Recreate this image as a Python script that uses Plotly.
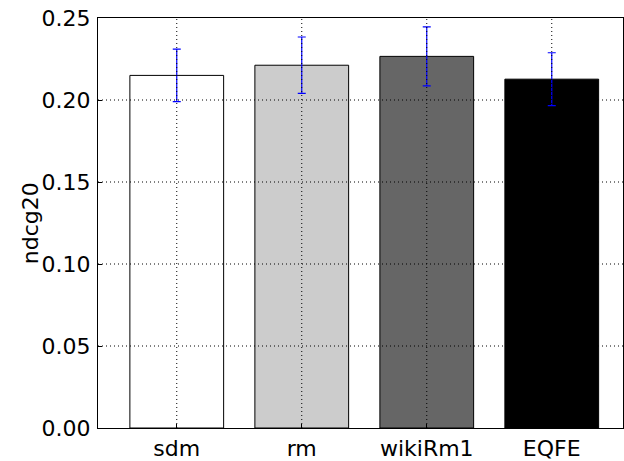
import plotly.graph_objects as go

# ndcg20 scores per run with their error margins
runs = ["sdm", "rm", "wikiRm1", "EQFE"]
ndcg20 = [0.215, 0.2212, 0.2266, 0.2127]
err = [0.016, 0.0172, 0.018, 0.0161]
bar_colors = ["#ffffff", "#cccccc", "#666666", "#000000"]
y_ticks = [0.00, 0.05, 0.10, 0.15, 0.20, 0.25]

W, H = 624, 461
ml, mr, mt, mb = 98, 0, 18, 30
font = dict(family="DejaVu Sans", size=22, color="black")

fig = go.Figure()
fig.add_trace(go.Bar(
    x=list(range(len(runs))), y=ndcg20, width=0.75,
    marker=dict(color=bar_colors, line=dict(color="black", width=1)),
    error_y=dict(type="data", array=err, visible=True, color="#0000ff",
                 thickness=1.2, width=4),
))

# dotted grid on top of the bars
grid = dict(color="black", width=1, dash="1px,3px")
for v in y_ticks[1:-1]:
    fig.add_shape(type="line", xref="paper", yref="y", x0=0, x1=1, y0=v, y1=v,
                  line=grid, layer="above")
for i in range(len(runs)):
    fig.add_shape(type="line", xref="x", yref="paper", x0=i, x1=i, y0=0, y1=1,
                  line=grid, layer="above")

fig.add_annotation(text="ndcg20", textangle=-90, xref="paper", yref="paper",
                   x=(30 - ml) / (W - ml - mr), y=0.5, xanchor="center",
                   yanchor="middle", showarrow=False, font=font)

fig.update_layout(
    width=W, height=H, margin=dict(l=ml, r=mr, t=mt, b=mb),
    paper_bgcolor="white", plot_bgcolor="white", showlegend=False,
    font=font,
    xaxis=dict(range=[-0.63, 3.57], tickvals=list(range(len(runs))),
               ticktext=runs, showgrid=False, zeroline=False,
               showline=True, linecolor="black", linewidth=1, mirror=True,
               ticks="inside", ticklen=4, tickcolor="black", ticklabelstandoff=1),
    yaxis=dict(range=[0, 0.25], tickvals=y_ticks,
               ticktext=[f"{v:.2f}" for v in y_ticks], showgrid=False,
               zeroline=False, showline=True, linecolor="black", linewidth=1,
               mirror=True, ticks="inside", ticklen=4, tickcolor="black",
               ticklabelstandoff=2),
)

fig.write_html("out.html")
